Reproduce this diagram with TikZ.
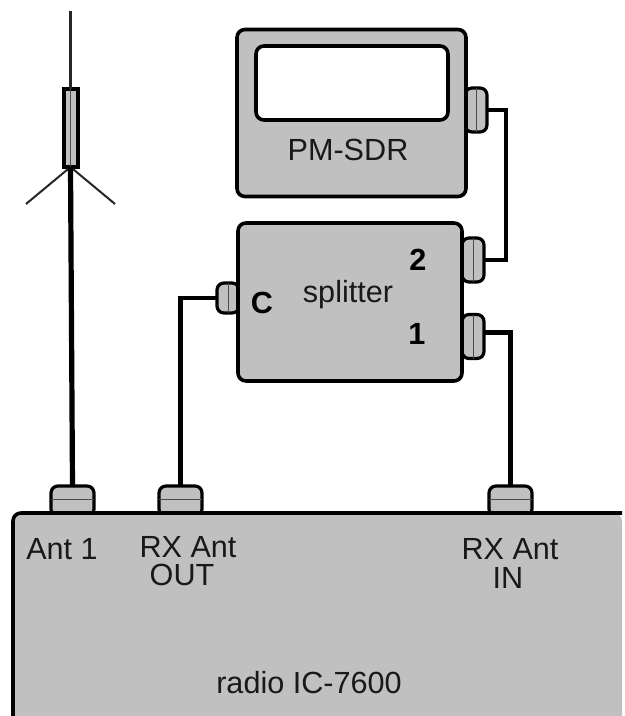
\documentclass[tikz,border=0pt]{standalone}
\usepackage{fontspec}
\setmainfont{Liberation Sans}
\definecolor{boxgray}{HTML}{C0C0C0}
\tikzset{
	devbox/.style={draw=black,fill=boxgray,line width=1.8pt,rounded corners=4pt,inner sep=0pt,outer sep=0pt},
	plug/.style={draw=black,fill=boxgray,line width=1.6pt,rounded corners=3.5pt,inner sep=0pt,outer sep=0pt},
	wire/.style={draw=black,line width=2.2pt},
	seam/.style={draw=black!70,line width=.5pt},
	lbl/.style={font=\fontsize{15.3}{15.3}\selectfont,inner sep=0pt,text=black!90},
	num/.style={font=\fontsize{15.3}{15.3}\selectfont\bfseries,inner sep=0pt}
}
\begin{document}
\begin{tikzpicture}[x=.5pt,y=-.5pt]
	\useasboundingbox (0,0) rectangle (625,716);
	\fill[white] (0,0) rectangle (625,716);

	% antenna
	\coordinate (whiptop) at (70.5,11);
	\coordinate (radleft) at (26,204);
	\coordinate (radright) at (115,204);
	\node[plug,line width=2pt,rounded corners=0pt,minimum width=7pt,minimum height=39pt] (antrod) at (70.5,128) {};
	\draw[seam] (antrod.north) -- (antrod.south);
	\draw[black!85,line width=1.6pt] (whiptop) -- (antrod.north);
	\draw[black!85,line width=1pt] (radleft) -- (antrod.south) -- (radright);

	% radio
	\node[plug,minimum width=21.5pt,minimum height=15pt] (antone) at (72.5,501) {};
	\node[plug,minimum width=21.5pt,minimum height=15pt] (rxout) at (180.5,501) {};
	\node[plug,minimum width=21.5pt,minimum height=15pt] (rxin) at (510.5,501) {};
	\draw[seam] (antone.west |- 0,499) -- (antone.east |- 0,499);
	\draw[seam] (rxout.west |- 0,499) -- (rxout.east |- 0,499);
	\draw[seam] (rxin.west |- 0,499) -- (rxin.east |- 0,499);
	\fill[boxgray,rounded corners=4pt] (13,513) rectangle (622,740);
	\draw[black,line width=1.8pt,rounded corners=4pt] (13,716) -- (13,513) -- (622,513);
	\node[lbl] (antlbl) at (62,549) {Ant 1};
	\node[lbl] (outlbl) at (188,547) {RX Ant};
	\node[lbl] (outlbltwo) at (182,575) {OUT};
	\node[lbl] (inlbl) at (510,549) {RX Ant};
	\node[lbl] (inlbltwo) at (508,578) {IN};
	\node[lbl] (radiolbl) at (309,683) {radio IC-7600};

	% PM-SDR
	\node[plug,minimum width=11pt,minimum height=22pt] (pmplug) at (476,110) {};
	\draw[seam] (pmplug.north) -- (pmplug.south);
	\node[devbox,minimum width=114.5pt,minimum height=83.5pt] (pmsdr) at (351.5,113) {};
	\node[devbox,fill=white,minimum width=96pt,minimum height=37pt] (display) at (352,83) {};
	\node[lbl] (pmlbl) at (348,150) {PM-SDR};

	% splitter
	\node[plug,minimum width=11pt,minimum height=22pt] (plugtwo) at (473,260) {};
	\node[plug,minimum width=11pt,minimum height=22pt] (plugone) at (473,336.5) {};
	\node[plug,minimum width=11pt,minimum height=15pt] (plugc) at (228,298) {};
	\draw[seam] (plugtwo.north) -- (plugtwo.south);
	\draw[seam] (plugone.north) -- (plugone.south);
	\draw[seam] (plugc.north) -- (plugc.south);
	\node[devbox,minimum width=112pt,minimum height=79pt] (splitter) at (350,302) {};
	\node[lbl] (splbl) at (348,295) {splitter};
	\node[num] (portc) at (262,303) {C};
	\node[num] (porttwo) at (418,260) {2};
	\node[num] (portone) at (417,334) {1};

	% cables
	\coordinate (bend) at (506,180);
	\draw[wire,line width=2.6pt] (antrod.south) -- (antone.north);
	\draw[wire] (plugc.west) -| (rxout.north);
	\draw[wire,line width=1.9pt] (pmplug.east) -| (bend) |- (plugtwo.east);
	\draw[wire] ([yshift=2pt]plugone.east) -| (rxin.north);
\end{tikzpicture}
\end{document}
